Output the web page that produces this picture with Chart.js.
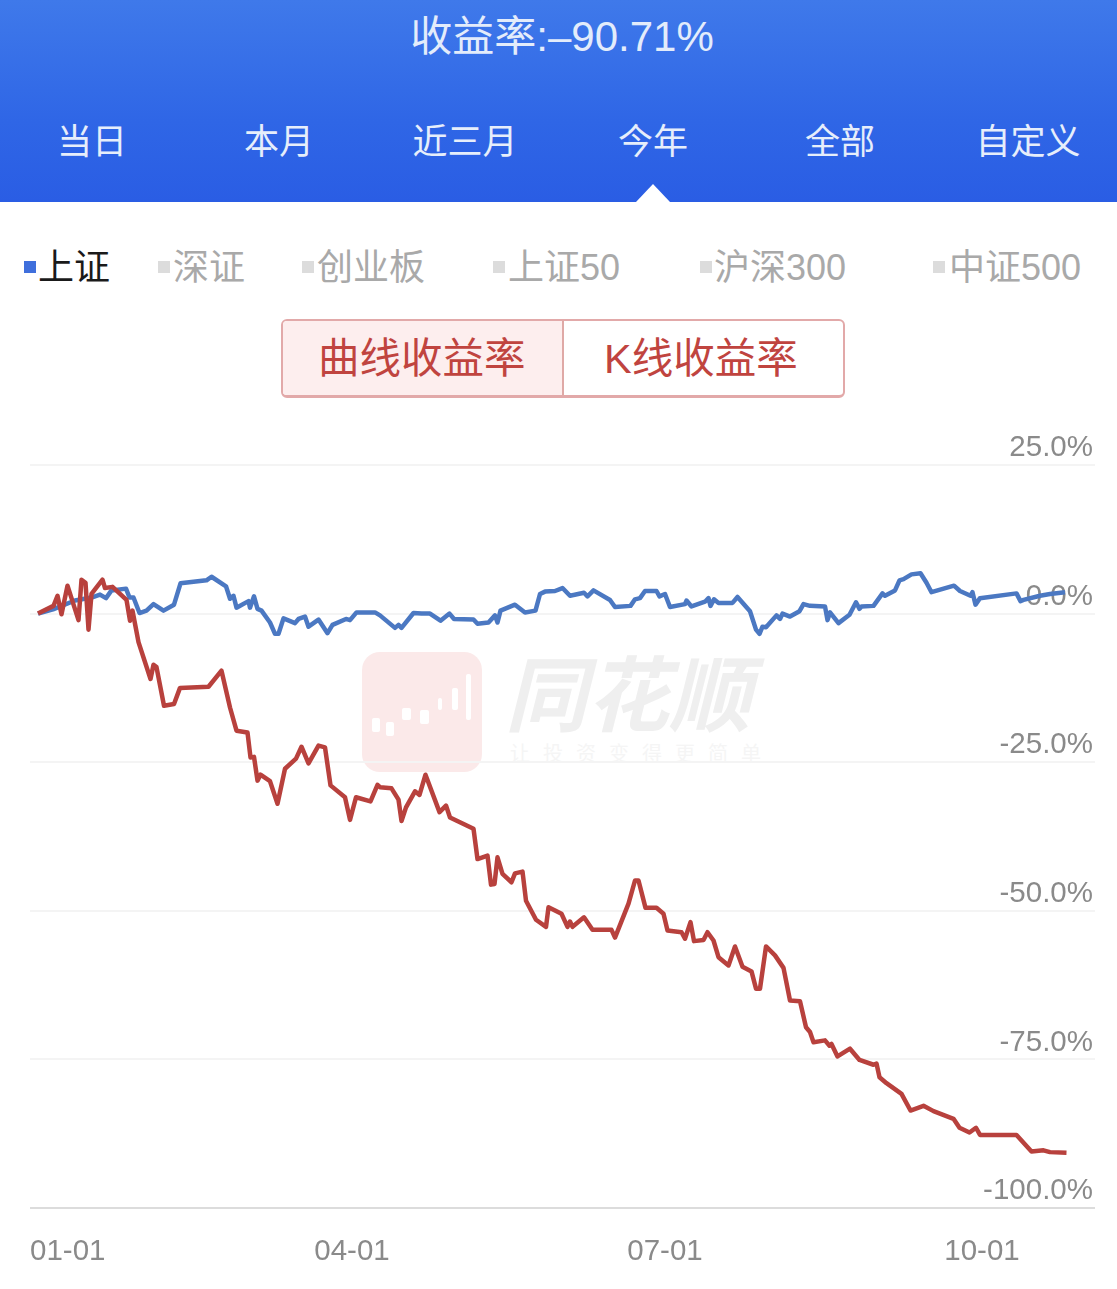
<!DOCTYPE html>
<html lang="zh">
<head>
<meta charset="utf-8">
<title>收益率</title>
<script src="https://cdn.jsdelivr.net/npm/chart.js@4/dist/chart.umd.min.js"></script>
<style>
html,body{margin:0;padding:0;background:#fff;}
body{position:relative;width:1117px;height:1289px;overflow:hidden;font-family:"Liberation Sans","Noto Sans CJK SC",sans-serif;}
.abs{position:absolute;white-space:nowrap;line-height:1;}
#head{position:absolute;left:0;top:0;width:1117px;height:202px;background:linear-gradient(180deg,#3f79ea 0%,#2f66e6 60%,#2a5de4 100%);}
#tri{position:absolute;left:636px;top:184px;width:0;height:0;border-left:17px solid transparent;border-right:17px solid transparent;border-bottom:18px solid #fff;}
#title{left:0;width:1117px;top:16px;text-align:center;color:#e3ecfb;font-size:42px;padding-left:7px;box-sizing:border-box;}
.tab{top:124px;color:#e6eefb;font-size:35px;text-align:center;width:200px;}
.lg{top:250px;font-size:36px;color:#a9a9a9;}
.sq{position:absolute;width:12px;height:12px;background:#dcdcdc;top:261px;}
#btn{position:absolute;left:281px;top:319px;width:560px;height:74px;border:2px solid #e2a9a9;border-bottom-width:3px;border-radius:6px;overflow:hidden;background:#fff;}
#btnL{position:absolute;left:0;top:0;width:279px;height:100%;background:#fdeeee;border-right:2px solid #dfa9a6;}
.bt{top:338px;font-size:41.5px;color:#c0443f;}
#chart{position:absolute;left:0;top:400px;}
#wmLogo{position:absolute;left:362px;top:652px;width:120px;height:120px;border-radius:18px;background:#fbe9e9;}
.wmMark{position:absolute;background:#fff;border-radius:2px;}
#wmName{left:505px;top:656px;font-size:82px;font-weight:bold;font-style:italic;color:#efefef;}
#wmSub{left:510px;top:744px;font-size:20px;color:#f5f5f5;letter-spacing:13px;}
</style>
</head>
<body>
<div id="head"></div>
<div id="tri"></div>
<div id="title" class="abs">收益率:–90.71%</div>
<div class="abs tab" style="left:-8px">当日</div>
<div class="abs tab" style="left:179px">本月</div>
<div class="abs tab" style="left:365px">近三月</div>
<div class="abs tab" style="left:553px">今年</div>
<div class="abs tab" style="left:740px">全部</div>
<div class="abs tab" style="left:928px">自定义</div>

<div class="sq" style="left:24px;background:#3f6fdc;"></div><div class="abs lg" style="left:38px;color:#1a1a1a">上证</div>
<div class="sq" style="left:158px"></div><div class="abs lg" style="left:173px">深证</div>
<div class="sq" style="left:302px"></div><div class="abs lg" style="left:317px">创业板</div>
<div class="sq" style="left:493px"></div><div class="abs lg" style="left:508px">上证50</div>
<div class="sq" style="left:700px"></div><div class="abs lg" style="left:714px">沪深300</div>
<div class="sq" style="left:933px"></div><div class="abs lg" style="left:949px">中证500</div>

<div id="btn"><div id="btnL"></div></div>
<div class="abs bt" style="left:318px">曲线收益率</div>
<div class="abs bt" style="left:604px">K线收益率</div>

<div id="wmLogo">
  <div class="wmMark" style="left:10px;top:66px;width:8px;height:14px"></div>
  <div class="wmMark" style="left:24px;top:70px;width:8px;height:14px"></div>
  <div class="wmMark" style="left:40px;top:56px;width:9px;height:12px"></div>
  <div class="wmMark" style="left:58px;top:58px;width:9px;height:14px"></div>
  <div class="wmMark" style="left:76px;top:46px;width:4px;height:12px"></div>
  <div class="wmMark" style="left:90px;top:36px;width:6px;height:22px"></div>
  <div class="wmMark" style="left:104px;top:22px;width:5px;height:46px"></div>
</div>
<div id="wmName" class="abs">同花顺</div>
<div id="wmSub" class="abs">让投资变得更简单</div>

<canvas id="chart" width="1117" height="889"></canvas>

<script>
// Estimated trading-day position and return (%) of each turning point
const redDays = [0,3.1,3.9,4.7,5.9,8.1,8.7,9.5,10.1,10.7,12.9,13.4,14.9,17.7,18.4,18.9,19.4,20.1,22.5,23.1,23.7,25.2,27.2,28.4,34.1,36.7,38.4,39.7,41.9,42.5,43.2,43.9,44.5,46.4,47.9,49.4,51.6,52.7,54.1,56.1,57.4,58.5,61.4,62.4,63.6,66.5,67.9,68.4,70.7,72.1,72.7,73.6,75.4,76.3,77.5,80.3,81.6,82.4,87.1,87.9,89.9,90.6,91.3,91.9,92.9,94.7,95.4,96.9,97.6,99.6,101.6,102.1,104.7,105.9,106.4,106.9,109.2,110.9,114.7,115.4,118.1,119.4,120.1,121.5,123.7,125.1,125.9,128.7,129.4,130.5,131.2,133.1,133.9,135.1,136.1,138.1,139.4,140.9,142.7,143.6,144.4,145.6,147.4,149.1,150.4,152.4,153.6,154.4,155.1,157.4,158.3,158.7,159.9,162.4,164.3,167.1,167.7,168.3,169.7,172.7,174.5,177.1,179.1,183.1,184.3,186.3,187.6,188.4,195.7,198.7,201.1,202.4,205.7];
const redReturns = [0,1.3,3.0,-0.1,4.7,-1.1,5.7,5.2,-2.7,3.3,5.7,4.3,4.5,2.3,-1.2,0.5,-1.7,-4.8,-11.0,-8.6,-9.0,-15.5,-15.2,-12.5,-12.3,-9.6,-15.8,-19.7,-20.0,-24.2,-24.1,-28.1,-27.1,-28.2,-32.0,-26.1,-24.4,-22.4,-25.2,-22.2,-22.5,-28.9,-30.9,-34.7,-30.9,-31.6,-28.8,-29.2,-29.4,-31.3,-34.9,-32.6,-29.9,-30.5,-27.1,-33.4,-32.3,-34.3,-36.2,-41.3,-40.7,-45.6,-45.5,-41.0,-43.8,-45.2,-43.7,-43.4,-48.3,-51.5,-52.7,-49.4,-50.5,-52.7,-51.8,-52.7,-51.1,-53.2,-53.2,-54.5,-48.8,-44.9,-44.9,-49.5,-49.5,-50.5,-53.3,-53.6,-54.7,-51.9,-55.1,-54.9,-53.6,-55.0,-57.8,-59.2,-56.0,-59.4,-60.2,-63.1,-63.1,-56.0,-57.5,-59.6,-65.1,-65.2,-69.6,-70.4,-72.1,-71.8,-72.7,-72.4,-74.5,-73.2,-75.1,-75.9,-75.7,-78.0,-79.0,-80.8,-83.6,-82.8,-83.7,-85.0,-86.5,-87.3,-86.5,-87.7,-87.7,-90.5,-90.3,-90.6,-90.71];
const blueDays = [0,3,7.4,10.7,12.4,13.6,14.7,17.6,18.3,19.1,20.3,21.7,23.1,25.1,27.2,28.5,33.7,34.7,37.6,38.4,39.1,39.7,42.1,42.4,43.2,43.9,44.7,46.4,47.4,48.1,49.1,51.4,52.1,53.4,54.1,56.1,57.9,58.9,61.6,62.4,63.7,67.4,68.4,71.4,72.1,72.7,75.1,76.7,78.4,80.5,82.3,83.2,87.1,87.9,90.1,91.4,91.9,92.5,95.4,97.4,99.5,100.4,101.4,103.4,104.9,106.4,109.2,109.9,111.1,114.4,115.4,118.5,119.4,120.4,121.4,123.7,124.3,125.4,126.4,129.4,129.7,130.7,133.4,134.1,134.5,135.2,136.1,138.9,139.9,142.4,143.6,144.3,144.9,145.6,147.7,148.4,148.9,150.4,152.3,153.1,154.4,157.4,157.9,158.4,160.1,162.3,163.6,164.3,164.7,167.1,168.9,169.4,171.4,172.3,173.1,174.7,176.5,177.7,178.7,183.2,184.4,186.5,186.9,187.5,188.4,195.7,196.5,197.1,200.4,202.4,205.4];
const blueReturns = [0,0.7,2.2,2.7,3.2,2.6,3.9,4.2,2.7,2.7,0.1,0.5,1.6,0.5,1.5,5.1,5.6,6.2,4.6,2.5,3.0,1.0,2.1,1.0,2.9,0.8,0.5,-1.5,-3.4,-3.4,-0.8,-1.6,-0.9,-0.5,-2.2,-1.0,-3.3,-1.9,-0.9,-1.1,0.2,0.2,-0.3,-2.4,-1.9,-2.4,0.1,0,0,-1.2,0,-0.9,-1.0,-1.7,-1.5,-0.3,-1.5,0.5,1.5,0.2,0.5,3.3,3.7,3.8,4.3,3.0,3.5,2.9,3.9,2.3,1.1,1.3,2.4,2.6,3.8,3.8,2.9,3.3,1.1,1.6,2.2,1.2,2.0,2.6,1.3,2.4,1.8,1.8,2.8,0.4,-2.7,-3.4,-2.2,-2.3,-0.3,-0.9,0,-0.5,0.4,1.6,1.3,1.2,-1.1,0.2,-1.6,-0.2,1.9,0.8,1.2,1.3,3.4,3.0,3.9,5.6,5.8,6.6,6.8,5.2,3.6,4.7,3.8,3.0,3.6,1.5,2.6,3.4,2.1,2.3,3.0,3.3,3.6];
const xTickDays = [-1.6,62.8,125.4,188.8,211.4];
const xTickLabels = ['01-01','04-01','07-01','10-01',''];
const yTicks = [25,0,-25,-50,-75,-100];

const toPoints = (xs, ys) => xs.map((x, i) => ({x, y: ys[i]}));

new Chart(document.getElementById('chart'), {
  type: 'line',
  data: {
    datasets: [
      {label: '收益率', data: toPoints(redDays, redReturns), borderColor: '#b8413d', borderWidth: 4.5, pointRadius: 0, tension: 0, borderJoinStyle: 'round'},
      {label: '上证', data: toPoints(blueDays, blueReturns), borderColor: '#4b78c2', borderWidth: 4.5, pointRadius: 0, tension: 0, borderJoinStyle: 'round'}
    ]
  },
  options: {
    responsive: false,
    animation: false,
    layout: {padding: {left: 30, right: 22, top: 65, bottom: 0}},
    plugins: {legend: {display: false}, tooltip: {enabled: false}},
    scales: {
      x: {
        type: 'linear',
        min: xTickDays[0],
        max: xTickDays[xTickDays.length - 1],
        afterBuildTicks: a => { a.ticks = xTickDays.map(value => ({value})); },
        afterFit: a => { a.height = 81; a.paddingLeft = 0; a.paddingRight = 0; },
        border: {display: false},
        grid: {display: false, drawTicks: false},
        ticks: {
          autoSkip: false, maxRotation: 0, minRotation: 0, align: 'inner', padding: 26,
          color: '#8a8a8a', font: {family: '"Liberation Sans"', size: 29.5},
          callback: (v, i) => xTickLabels[i]
        }
      },
      y: {
        position: 'right',
        min: -100,
        max: 25,
        afterBuildTicks: a => { a.ticks = yTicks.map(value => ({value})); },
        afterFit: a => { a.width = 0; },
        border: {display: false},
        grid: {
          drawTicks: false,
          lineWidth: 2,
          color: c => (c.tick && c.tick.value === -100) ? '#dcdcdc' : '#f4f4f4'
        },
        ticks: {
          mirror: true, padding: -2, labelOffset: -17,
          color: '#8a8a8a', font: {family: '"Liberation Sans"', size: 29.5},
          callback: v => v.toFixed(1) + '%'
        }
      }
    }
  }
});
</script>
</body>
</html>
